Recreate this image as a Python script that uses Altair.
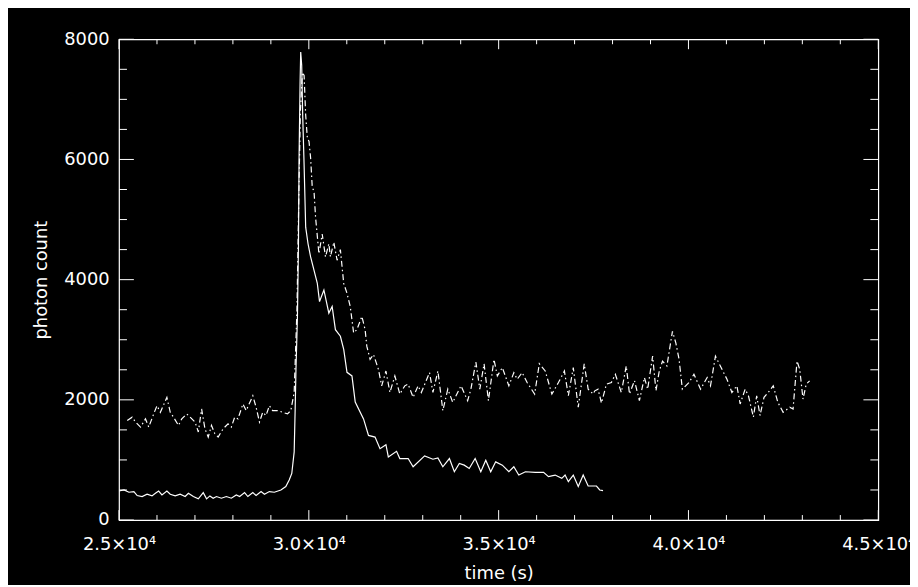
import altair as alt
import pandas as pd

# solid curve (time in s, photon count)
solid_t = [25000, 25131, 25261, 25392, 25478, 25608, 25739, 25869, 25958, 26044,
           26131, 26261, 26350, 26480, 26611, 26742, 26828, 26958, 27089, 27219,
           27306, 27394, 27480, 27567, 27697, 27828, 27958, 28089, 28178, 28308,
           28394, 28525, 28611, 28742, 28830, 28961, 29091, 29264, 29394, 29483,
           29551, 29614, 29640, 29661, 29700, 29726, 29744, 29770, 29786, 29812,
           29838, 29875, 29917, 29979, 30047, 30222, 30282, 30397, 30527, 30614,
           30700, 30831, 30919, 31005, 31136, 31222, 31441, 31572, 31744, 31875,
           32031, 32094, 32311, 32397, 32616, 32747, 33050, 33269, 33400, 33530,
           33703, 33833, 33964, 34094, 34225, 34381, 34530, 34661, 34791, 34922,
           35097, 35269, 35400, 35530, 35705, 35966, 36183, 36313, 36488, 36663,
           36750, 36836, 36966, 37097, 37227, 37358, 37577, 37663, 37749]
solid_c = [483, 500, 462, 473, 407, 391, 429, 401, 446, 483,
           418, 483, 429, 401, 429, 391, 446, 391, 352, 456,
           352, 401, 363, 391, 363, 391, 363, 418, 391, 456,
           391, 456, 407, 473, 429, 473, 462, 500, 556, 666,
           775, 1133, 1848, 2508, 3388, 4543, 6080, 7293, 7788, 7568,
           6740, 5915, 4873, 4597, 4378, 3944, 3635, 3828, 3443, 3553,
           3168, 3058, 2838, 2458, 2398, 1964, 1683, 1408, 1380, 1188,
           1254, 1050, 1144, 1023, 1023, 886, 1067, 1012, 1034, 886,
           1023, 803, 940, 913, 858, 1023, 803, 995, 803, 968,
           913, 803, 886, 748, 803, 792, 792, 721, 748, 693,
           748, 638, 748, 556, 748, 566, 566, 500, 490]

# dash-dot curve
dash_t = [25217, 25347, 25436, 25567, 25697, 25783, 25914, 26000, 26089, 26261,
          26350, 26436, 26567, 26653, 26783, 26872, 27003, 27089, 27175, 27264,
          27350, 27436, 27525, 27611, 27742, 27872, 27958, 28047, 28133, 28264,
          28350, 28525, 28611, 28700, 28786, 28872, 28961, 29047, 29178, 29308,
          29439, 29525, 29614, 29687, 29739, 29778, 29830, 29875, 29917, 29961,
          30005, 30047, 30091, 30136, 30178, 30266, 30352, 30439, 30527, 30569,
          30658, 30744, 30831, 30919, 31005, 31091, 31180, 31266, 31397, 31483,
          31527, 31614, 31703, 31833, 31919, 32031, 32136, 32266, 32397, 32527,
          32616, 32747, 32877, 32963, 33180, 33269, 33400, 33530, 33661, 33791,
          34008, 34183, 34269, 34400, 34504, 34616, 34731, 34877, 34966, 35097,
          35269, 35400, 35489, 35619, 35750, 35948, 36071, 36227, 36402, 36575,
          36732, 36836, 36966, 37097, 37254, 37358, 37489, 37533, 37619, 37708,
          37839, 37969, 38074, 38231, 38361, 38447, 38578, 38708, 38839, 38925,
          39056, 39144, 39231, 39317, 39432, 39578, 39667, 39753, 39839, 40014,
          40144, 40319, 40492, 40580, 40711, 40883, 41014, 41144, 41275, 41362,
          41493, 41580, 41710, 41797, 41885, 41990, 42102, 42233, 42355, 42494,
          42669, 42755, 42860, 42931, 43017, 43102, 43191]
dash_c = [1657, 1712, 1630, 1547, 1683, 1547, 1766, 1903, 1793, 2041,
          1793, 1712, 1574, 1683, 1766, 1712, 1630, 1465, 1848, 1518,
          1381, 1574, 1436, 1381, 1518, 1601, 1547, 1712, 1683, 1931,
          1821, 2068, 1876, 1630, 1793, 1739, 1903, 1821, 1821, 1793,
          1766, 1821, 2123, 3500, 5500, 6800, 7450, 7400, 6740, 6355,
          6300, 6025, 5530, 5475, 5035, 4430, 4760, 4378, 4597, 4378,
          4625, 4323, 4500, 3938, 3773, 3553, 3113, 3168, 3388, 3168,
          2893, 2673, 2755, 2508, 2233, 2480, 2123, 2398, 2096, 2233,
          2261, 2041, 2233, 2123, 2453, 2123, 2480, 1821, 2178, 1958,
          2233, 1986, 2178, 2628, 2178, 2600, 1986, 2673, 2398, 2536,
          2233, 2453, 2343, 2453, 2288, 2096, 2600, 2480, 2096, 2288,
          2480, 2068, 2536, 1876, 2600, 2178, 2096, 2150, 2178, 1945,
          2261, 2288, 2425, 2123, 2563, 2096, 2320, 1986, 2371, 2178,
          2728, 2151, 2480, 2645, 2563, 3140, 2948, 2673, 2178, 2288,
          2425, 2178, 2371, 2233, 2728, 2508, 2343, 2123, 2233, 1931,
          2178, 2068, 1712, 2068, 1739, 2041, 2123, 2233, 1958, 1793,
          1876, 1848, 2645, 2508, 2013, 2261, 2316]

x_major = [25000, 30000, 35000, 40000, 45000]
x_minor = [26000, 27000, 28000, 29000, 31000, 32000, 33000, 34000,
           36000, 37000, 38000, 39000, 41000, 42000, 43000, 44000]
y_major = [0, 2000, 4000, 6000, 8000]
y_minor = [500, 1000, 1500, 2500, 3000, 3500, 4500, 5000, 5500, 6500, 7000, 7500]

W, H = 766, 485
FONT = "DejaVu Sans"

df_s = pd.DataFrame({"t": solid_t, "c": solid_c})
df_d = pd.DataFrame({"t": dash_t, "c": dash_c})
df_xM = pd.DataFrame({"v": x_major})
df_xm = pd.DataFrame({"v": x_minor})
df_yM = pd.DataFrame({"v": y_major})
df_ym = pd.DataFrame({"v": y_minor})

xs = alt.Scale(domain=[25000, 45000], nice=False, zero=False)
ys = alt.Scale(domain=[0, 8000], nice=False, zero=False)

xaxis = alt.Axis(values=x_major, title="time (s)", ticks=False, domain=False, grid=False,
                 labelExpr="format(datum.value/10000, '.1f') + '×10⁴'",
                 labelPadding=16, titlePadding=11, labelFlush=False, labelOverlap=False)
yaxis = alt.Axis(values=y_major, title="photon count", ticks=False, domain=False, grid=False,
                 format="d", labelPadding=10, titlePadding=13)

solid = alt.Chart(df_s).mark_line(color="white", strokeWidth=1.2).encode(
    x=alt.X("t:Q", scale=xs, axis=xaxis),
    y=alt.Y("c:Q", scale=ys, axis=yaxis),
)
dashed = alt.Chart(df_d).mark_line(color="white", strokeWidth=1.2, strokeDash=[6, 3, 1.5, 3]).encode(
    x=alt.X("t:Q", scale=xs, axis=xaxis),
    y=alt.Y("c:Q", scale=ys, axis=yaxis),
)

def xticks(df, length, bottom):
    y1 = H if bottom else 0
    y2 = H - length if bottom else length
    return alt.Chart(df).mark_rule(color="white", strokeWidth=1).encode(
        x=alt.X("v:Q", scale=xs, axis=xaxis), y=alt.value(y1), y2=alt.value(y2))

def yticks(df, length, left):
    x1 = 0 if left else W
    x2 = length if left else W - length
    return alt.Chart(df).mark_rule(color="white", strokeWidth=1).encode(
        y=alt.Y("v:Q", scale=ys, axis=yaxis), x=alt.value(x1), x2=alt.value(x2))

chart = alt.layer(
    solid, dashed,
    xticks(df_xM, 10, True), xticks(df_xm, 5, True),
    xticks(df_xM, 10, False), xticks(df_xm, 5, False),
    yticks(df_yM, 15, True), yticks(df_ym, 8, True),
    yticks(df_yM, 15, False), yticks(df_ym, 8, False),
).properties(
    width=W, height=H,
    autosize=alt.AutoSizeParams(type="none"),
    padding={"left": 112, "top": 29, "right": 32, "bottom": 63},
    background="black",
).configure_view(
    stroke="white", strokeWidth=1.2, fill="black"
).configure_axis(
    labelColor="white", titleColor="white", labelFont=FONT, titleFont=FONT,
    labelFontSize=18, titleFontSize=18, titleFontWeight="normal",
)

chart.save("out.html", embed_options={"renderer": "svg", "actions": False})
